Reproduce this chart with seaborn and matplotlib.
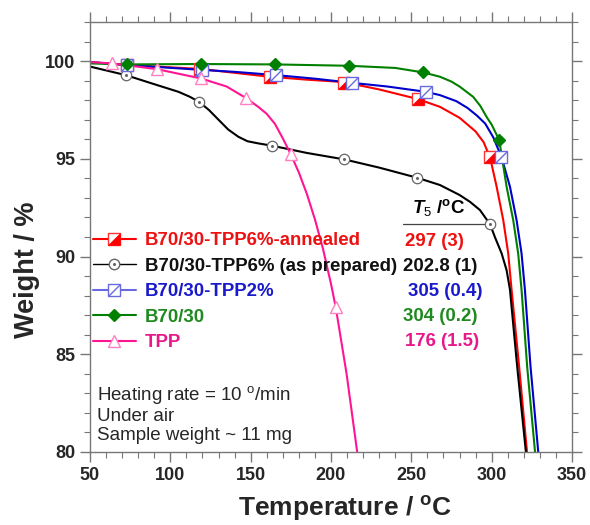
import numpy as np
import pandas as pd
import matplotlib
matplotlib.use("Agg")
import matplotlib.pyplot as plt
import seaborn as sns
from matplotlib.lines import Line2D
from matplotlib.path import Path
from matplotlib.legend_handler import HandlerTuple
from matplotlib.ticker import MultipleLocator

# ---------------- data ----------------
series_names = ["B70/30-TPP6%-annealed", "B70/30-TPP6% (as prepared)",
                "B70/30-TPP2%", "B70/30", "TPP"]
t5_labels = ["297 (3)", "202.8 (1)", "305 (0.4)", "304 (0.2)", "176 (1.5)"]

red_T = [50, 72.8, 118.5, 140, 161.6, 185, 207.6, 230, 253.9, 267.8, 280, 290,
         295, 299, 303.1, 307.2, 310.3, 312.4, 317.1, 322]
red_W = [99.95, 99.8, 99.6, 99.4, 99.2, 99.05, 98.93, 98.55, 98.06, 97.66, 97.1, 96.4,
         95.85, 95.07, 93.57, 91.87, 90.16, 88.3, 84.36, 80.0]

black_T = [50, 72.4, 88.4, 105, 112, 117.8, 124, 130, 136, 142.3, 148, 154.7, 163.4,
           185, 208.3, 230, 253.7, 267.8, 280, 286.5, 292.7, 299, 302, 306.2, 309.3,
           311.4, 315.9, 321.3]
black_W = [99.72, 99.28, 98.86, 98.43, 98.18, 97.92, 97.5, 97.0, 96.5, 96.13, 95.9, 95.79,
           95.67, 95.3, 94.97, 94.55, 94.03, 93.66, 93.15, 92.8, 92.38, 91.65, 91.0, 90.16,
           89.3, 88.3, 84.36, 80.0]

blue_T = [50, 73, 119.5, 140, 166.2, 190, 212.8, 235, 258.9, 267.8, 278, 285, 291, 296,
          301, 306.2, 311.4, 315.5, 318.6, 320.7, 324.2, 329]
blue_W = [99.95, 99.8, 99.55, 99.45, 99.28, 99.1, 98.89, 98.7, 98.43, 98.26, 97.95, 97.6,
          97.2, 96.8, 96.1, 95.07, 93.57, 91.87, 90.16, 88.3, 84.36, 80.0]

green_T = [50, 72.8, 119, 165, 211.2, 240, 257.4, 267.8, 275, 280, 288.5, 293, 296.8,
           300, 304.7, 309.3, 313.4, 316.5, 318.6, 322.1, 327]
green_W = [99.88, 99.83, 99.85, 99.83, 99.76, 99.65, 99.42, 99.2, 98.95, 98.7, 98.17,
           97.7, 97.15, 96.75, 95.96, 93.57, 91.87, 90.16, 88.3, 84.36, 80.0]

pink_T = [50, 63.9, 91.5, 119.1, 135, 146.9, 154.7, 160, 165, 170, 174.9, 180, 185,
          190, 195, 200, 202.9, 209.7, 216.3]
pink_W = [99.95, 99.88, 99.59, 99.11, 98.7, 98.12, 97.66, 97.3, 96.8, 96.05, 95.24, 94.3,
          93.2, 91.9, 90.4, 88.6, 87.43, 84.0, 80.0]

# marker positions
red_mk_T = [73, 118.5, 162, 208, 254, 299]
red_mk_W = [99.8, 99.6, 99.2, 98.9, 98.05, 95.07]
black_mk_T = [72.4, 117.8, 163.4, 208.3, 253.7, 299]
black_mk_W = [99.28, 97.92, 95.67, 94.97, 94.03, 91.65]
blue_mk_T = [73, 119.5, 166, 213, 259, 306]
blue_mk_W = [99.8, 99.55, 99.28, 98.89, 98.43, 95.07]
green_mk_T = [73, 119, 165, 211, 257.4, 304.5]
green_mk_W = [99.83, 99.85, 99.83, 99.76, 99.42, 95.96]
pink_mk_T = [64, 91.5, 119, 147, 175, 203]
pink_mk_W = [99.88, 99.59, 99.11, 98.12, 95.24, 87.43]

# ---------------- style ----------------
sns.set_style("ticks")
plt.rcParams["font.family"] = ["Liberation Sans", "DejaVu Sans"]
plt.rcParams["mathtext.fontset"] = "custom"
plt.rcParams["mathtext.rm"] = "Liberation Sans"
plt.rcParams["mathtext.it"] = "Liberation Sans:italic:bold"
plt.rcParams["mathtext.bf"] = "Liberation Sans:bold"

line_cols = ["#ff0000", "#000000", "#0000cc", "#008000", "#ff1493"]
text_cols = ["#ee1111", "#111111", "#1a1acc", "#1f8a1f", "#e8188a"]
blue_mk_col = "#6a6ae0"
pink_mk_col = "#ff80c0"
circ_col = "#666666"

fig = plt.figure(figsize=(5.9, 5.25), dpi=100)
ax = fig.add_axes([90 / 590, 1 - 452 / 525, 482 / 590, 430 / 525])

frames = []
for name, T, W in zip(series_names,
                      [red_T, black_T, blue_T, green_T, pink_T],
                      [red_W, black_W, blue_W, green_W, pink_W]):
    frames.append(pd.DataFrame({"T": T, "W": W, "series": name}))
df = pd.concat(frames, ignore_index=True)

for name, col in zip(series_names, line_cols):
    sns.lineplot(data=df[df["series"] == name], x="T", y="W", color=col,
                 lw=1.5, sort=False, estimator=None, ax=ax, legend=False)

tri_lr = [(-1, -1), (1, -1), (1, 1), (-1, -1)]
diag = Path([(-1, -1), (1, 1)], [Path.MOVETO, Path.LINETO])

# red half-filled squares
ax.plot(red_mk_T, red_mk_W, ls="none", marker="s", ms=8.3, mfc="white", mec="#ff3333", mew=1.0)
ax.plot(red_mk_T, red_mk_W, ls="none", marker=tri_lr, ms=8.3, mfc="#ff0000", mec="#ff0000", mew=0.5)
# black open circles with dot
ax.plot(black_mk_T, black_mk_W, ls="none", marker="o", ms=7.5, mfc="white", mec=circ_col, mew=0.9)
ax.plot(black_mk_T, black_mk_W, ls="none", marker="o", ms=1.2, mfc=circ_col, mec=circ_col)
# blue squares with diagonal
ax.plot(blue_mk_T, blue_mk_W, ls="none", marker="s", ms=8.3, mfc="white", mec=blue_mk_col, mew=1.0)
ax.plot(blue_mk_T, blue_mk_W, ls="none", marker=diag, ms=8.3, mfc="none", mec=blue_mk_col, mew=1.0)
# green diamonds
ax.plot(green_mk_T, green_mk_W, ls="none", marker="D", ms=6.5, mfc="#008000", mec="#008000")
# pink triangles
ax.plot(pink_mk_T, pink_mk_W, ls="none", marker="^", ms=8, mfc="white", mec=pink_mk_col, mew=1.0)

ax.set_xlim(50, 350)
ax.set_ylim(80, 102)
ax.xaxis.set_major_locator(MultipleLocator(50))
ax.xaxis.set_minor_locator(MultipleLocator(10))
ax.yaxis.set_major_locator(MultipleLocator(5))
ax.yaxis.set_minor_locator(MultipleLocator(1))
ax.tick_params(which="both", direction="out", top=True, right=True, color="#777777")
ax.tick_params(which="major", length=7, width=1.0)
ax.tick_params(which="minor", length=4, width=0.8)
for s in ax.spines.values():
    s.set_color("#777777")
    s.set_linewidth(1.0)
for lab in ax.get_xticklabels() + ax.get_yticklabels():
    lab.set_fontweight("bold")
    lab.set_fontsize(13)

ax.set_xlabel(r"Temperature / $^\mathbf{o}$C", fontsize=19, fontweight="bold")
ax.set_ylabel("Weight / %", fontsize=19.5, fontweight="bold")
ax.xaxis.set_label_coords((345 - 90) / 482, (452 - 494) / 430)
ax.yaxis.set_label_coords((40 - 90) / 482, (452 - 270) / 430)

# legend
h_red = (Line2D([], [], color=line_cols[0], lw=1.5, marker="s", ms=8.3, mfc="white", mec="#ff3333"),
         Line2D([], [], ls="none", marker=tri_lr, ms=8.3, mfc="#ff0000", mec="#ff0000", mew=0.5))
h_black = (Line2D([], [], color=line_cols[1], lw=1.0, marker="o", ms=7.5, mfc="white", mec=circ_col),
           Line2D([], [], ls="none", marker="o", ms=1.2, mfc=circ_col, mec=circ_col))
h_blue = (Line2D([], [], color=blue_mk_col, lw=1.5, marker="s", ms=8.3, mfc="white", mec=blue_mk_col),
          Line2D([], [], ls="none", marker=diag, ms=8.3, mfc="none", mec=blue_mk_col))
h_green = (Line2D([], [], color=line_cols[3], lw=1.5, marker="D", ms=6.5, mfc="#008000", mec="#008000"),)
h_pink = (Line2D([], [], color=line_cols[4], lw=1.5, marker="^", ms=8, mfc="white", mec=pink_mk_col),)
leg = ax.legend([h_red, h_black, h_blue, h_green, h_pink], series_names,
                handler_map={tuple: HandlerTuple(ndivide=1, pad=0)},
                loc="center left", bbox_to_anchor=(3 / 482, (452 - 291.7) / 430),
                frameon=False, borderpad=0, borderaxespad=0, handlelength=2.3,
                handletextpad=0.5, labelspacing=0.46,
                prop={"weight": "bold", "size": 13.4}, labelcolor=text_cols)

# T5 column
val_x = [405, 403, 408, 403, 405]
for i, (txt, col, px) in enumerate(zip(t5_labels, text_cols, val_x)):
    py = 241.7 + 25 * i
    ax.text((px - 90) / 482, (452 - py) / 430, txt, transform=ax.transAxes,
            ha="left", va="center", fontsize=13.4, fontweight="bold", color=col)
ax.text((412 - 90) / 482, (452 - 207) / 430, r"$T_{5}$ /$^\mathbf{o}$C", transform=ax.transAxes,
        ha="left", va="center", fontsize=13.5, fontweight="bold", color="black")
ax.add_line(Line2D([(403 - 90) / 482, (484 - 90) / 482], [(452 - 224) / 430] * 2,
                   transform=ax.transAxes, color="#444444", lw=0.9))

ax.text((97 - 90) / 482, (452 - 414) / 430,
        "Heating rate = 10 $^\\mathregular{o}$/min\nUnder air\nSample weight ~ 11 mg",
        transform=ax.transAxes, ha="left", va="center", fontsize=13.5, linespacing=1.19)

fig.savefig("out.png", dpi=100)
